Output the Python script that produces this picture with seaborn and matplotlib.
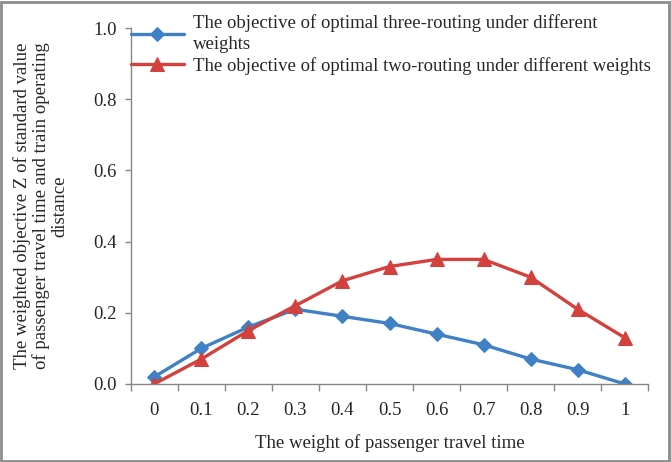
import numpy as np
import pandas as pd
import matplotlib
matplotlib.use("Agg")
import matplotlib.pyplot as plt
import seaborn as sns
from matplotlib.patches import Rectangle

# data
weights = ["0", "0.1", "0.2", "0.3", "0.4", "0.5", "0.6", "0.7", "0.8", "0.9", "1"]
three_routing = [0.02, 0.10, 0.16, 0.21, 0.19, 0.17, 0.14, 0.11, 0.07, 0.04, 0.00]
two_routing = [0.00, 0.07, 0.15, 0.22, 0.29, 0.33, 0.35, 0.35, 0.30, 0.21, 0.13]

label_three = "The objective of optimal three-routing under different\nweights"
label_two = "The objective of optimal two-routing under different weights"

sns.set_style("white")
plt.rcParams["font.family"] = ["Liberation Serif", "DejaVu Serif"]
fs = 13.5

blue = "#3F80C6"
red = "#D4403B"

fig = plt.figure(figsize=(6.71, 4.62), dpi=100)
ax = fig.add_axes([0.195, 0.169, 0.771, 0.77])

pos = np.arange(len(weights))
df = pd.DataFrame({"pos": pos, "three": three_routing, "two": two_routing})

sns.lineplot(data=df, x="pos", y="three", ax=ax, color=blue, linewidth=2.4,
             marker="D", markersize=7, markeredgecolor=blue, label=label_three)
sns.lineplot(data=df, x="pos", y="two", ax=ax, color=red, linewidth=2.4,
             marker="^", markersize=10, markeredgecolor=red, label=label_two)

ax.set_xlim(-0.5, len(weights) - 0.5)
ax.set_ylim(0, 1.0)
ax.set_yticks(np.arange(0, 1.01, 0.2))
ax.set_yticklabels([f"{v:.1f}" for v in np.arange(0, 1.01, 0.2)])
ax.set_xticks(pos)
ax.set_xticklabels(weights)
ax.set_xticks(np.arange(-0.5, len(weights), 1), minor=True)
ax.tick_params(axis="x", which="major", length=0, pad=13, labelsize=fs)
ax.tick_params(axis="x", which="minor", length=5, width=1, color="#868686", direction="out", bottom=True)
ax.tick_params(axis="y", length=4, width=1, color="#868686", direction="out", left=True, labelsize=fs, pad=6)

for side in ["top", "right"]:
    ax.spines[side].set_visible(False)
for side in ["left", "bottom"]:
    ax.spines[side].set_color("#868686")
    ax.spines[side].set_linewidth(1)

ax.set_xlabel("The weight of passenger travel time", fontsize=fs, labelpad=11)
ax.set_ylabel("The weighted objective Z of standard value\nof passenger travel time and train operating\ndistance",
              fontsize=fs, linespacing=1.1, labelpad=18)

leg = ax.legend(loc="upper left", bbox_to_anchor=(131 / 671, 1 - 14 / 462), bbox_transform=fig.transFigure,
                frameon=False, fontsize=fs, handlelength=2.8, handletextpad=0.5, labelspacing=0.2,
                borderpad=0, borderaxespad=0)
for t in leg.get_texts():
    t.set_linespacing(1.35)

fig.patches.append(Rectangle((0.002, 0.003), 0.995, 0.993, transform=fig.transFigure,
                             fill=False, edgecolor="#8c8c8c", linewidth=2))

fig.savefig("out.png", dpi=100)
